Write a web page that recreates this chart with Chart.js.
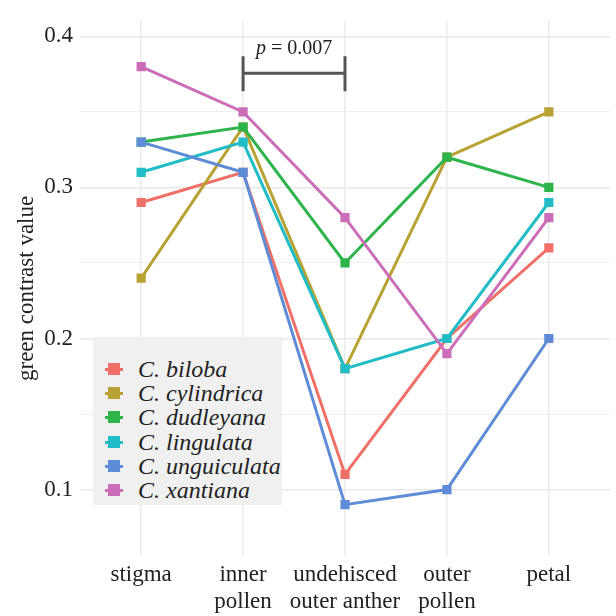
<!DOCTYPE html>
<html>
<head>
<meta charset="utf-8">
<script src="https://cdn.jsdelivr.net/npm/chart.js@4"></script>
<style>
  html, body { margin: 0; padding: 0; background: #fff; }
  #wrap { position: relative; width: 616px; height: 616px; }
  #legend {
    position: absolute; left: 93px; top: 337px; width: 189px; height: 168px;
    background: #f0f0f0; box-sizing: border-box; padding-top: 20px;
    font-family: "Liberation Serif", "DejaVu Serif", serif; font-style: italic;
    font-size: 24px; color: #222;
  }
  .item { height: 24.2px; line-height: 24px; position: relative; padding-left: 45px; white-space: nowrap; }
  .item .ln { position: absolute; left: 12px; top: 11px; width: 18px; height: 3px; }
  .item .sq { position: absolute; left: 15px; top: 6px; width: 12px; height: 12px; }
</style>
</head>
<body>
<div id="wrap">
  <canvas id="c" width="616" height="616"></canvas>
  <div id="legend"></div>
</div>
<script>
// --- データ ---
const categories = [['stigma'], ['inner', 'pollen'], ['undehisced', 'outer anther'], ['outer', 'pollen'], ['petal']];
const species = ['C. biloba', 'C. cylindrica', 'C. dudleyana', 'C. lingulata', 'C. unguiculata', 'C. xantiana'];
const biloba = [0.29, 0.31, 0.11, 0.20, 0.26];
const cylindrica = [0.24, 0.34, 0.18, 0.32, 0.35];
const dudleyana = [0.33, 0.34, 0.25, 0.32, 0.30];
const lingulata = [0.31, 0.33, 0.18, 0.20, 0.29];
const unguiculata = [0.33, 0.31, 0.09, 0.10, 0.20];
const xantiana = [0.38, 0.35, 0.28, 0.19, 0.28];
const yTicks = [0.1, 0.15, 0.2, 0.25, 0.3, 0.35, 0.4];
const pLabel = '0.007';

// --- 色 ---
const colors = ['#f07068', '#b9a234', '#2db44a', '#22bcc6', '#5e8cd6', '#cc6db9'];
const series = [biloba, cylindrica, dudleyana, lingulata, unguiculata, xantiana];
const serif = '"Liberation Serif", "DejaVu Serif", serif';

// p値のブラケット (inner pollen vs undehisced outer anther)
const bracketPlugin = {
  id: 'bracket',
  afterDatasetsDraw(chart) {
    const { ctx, scales: { x, y } } = chart;
    const x1 = x.getPixelForValue(1), x2 = x.getPixelForValue(2);
    const yTop = y.getPixelForValue(0.3868), yBot = y.getPixelForValue(0.3636), yMid = y.getPixelForValue(0.3755);
    ctx.save();
    ctx.strokeStyle = '#555';
    ctx.lineWidth = 3;
    ctx.beginPath();
    ctx.moveTo(x1, yTop); ctx.lineTo(x1, yBot);
    ctx.moveTo(x2, yTop); ctx.lineTo(x2, yBot);
    ctx.moveTo(x1, yMid); ctx.lineTo(x2, yMid);
    ctx.stroke();
    // テキスト
    ctx.fillStyle = '#222';
    ctx.textBaseline = 'alphabetic';
    const cx = (x1 + x2) / 2, by = yTop - 2;
    ctx.font = 'italic 20px ' + serif;
    const pW = ctx.measureText('p').width;
    ctx.font = '20px ' + serif;
    const rest = ' = ' + pLabel;
    const rW = ctx.measureText(rest).width;
    const start = cx - (pW + rW) / 2;
    ctx.font = 'italic 20px ' + serif;
    ctx.textAlign = 'left';
    ctx.fillText('p', start, by);
    ctx.font = '20px ' + serif;
    ctx.fillText(rest, start + pW, by);
    ctx.restore();
  }
};

new Chart(document.getElementById('c').getContext('2d'), {
  type: 'line',
  data: {
    datasets: series.map((vals, i) => ({
      label: species[i],
      data: vals.map((v, j) => ({ x: j, y: v })),
      borderColor: colors[i],
      backgroundColor: colors[i],
      borderWidth: 3,
      pointStyle: 'rect',
      pointRadius: 6.5,
      pointBorderWidth: 0,
      order: series.length - i,
      tension: 0
    }))
  },
  options: {
    responsive: false,
    animation: false,
    layout: { autoPadding: false, padding: { top: 0, right: 6, left: 0, bottom: 0 } },
    plugins: { legend: { display: false }, tooltip: { enabled: false } },
    scales: {
      x: {
        type: 'linear',
        min: -0.6,
        max: 4.6,
        afterBuildTicks: s => { s.ticks = categories.map((c, i) => ({ value: i })); },
        afterFit: s => { s.height = 60; },
        border: { display: false },
        grid: { color: '#ebebeb', lineWidth: 1.5, drawTicks: false },
        ticks: {
          callback: v => categories[v],
          color: '#222',
          font: { family: serif, size: 23, lineHeight: 1.15 },
          padding: 6,
          maxRotation: 0,
          autoSkip: false
        }
      },
      y: {
        min: 0.056,
        max: 0.4103,
        afterBuildTicks: s => { s.ticks = yTicks.map(v => ({ value: v })); },
        afterFit: s => { s.width = 80; },
        border: { display: false },
        grid: {
          drawTicks: false,
          color: c => (Math.round(c.tick.value * 100) % 10 === 0 ? '#e8e8e8' : '#f0f0f0'),
          lineWidth: c => (Math.round(c.tick.value * 100) % 10 === 0 ? 1.5 : 1)
        },
        ticks: {
          callback: v => (Math.round(v * 100) % 10 === 0 ? v.toFixed(1) : ''),
          color: '#222',
          font: { family: serif, size: 23 },
          padding: 7
        },
        title: {
          display: true,
          text: 'green contrast value',
          color: '#222',
          font: { family: serif, size: 23 },
          padding: { top: 13, bottom: 0 }
        }
      }
    }
  },
  plugins: [bracketPlugin]
});

// --- 凡例 ---
document.getElementById('legend').innerHTML = species.map((s, i) => `
  <div class="item"><span class="ln" style="background:${colors[i]}"></span><span class="sq" style="background:${colors[i]}"></span>${s}</div>
`).join('');
</script>
</body>
</html>
